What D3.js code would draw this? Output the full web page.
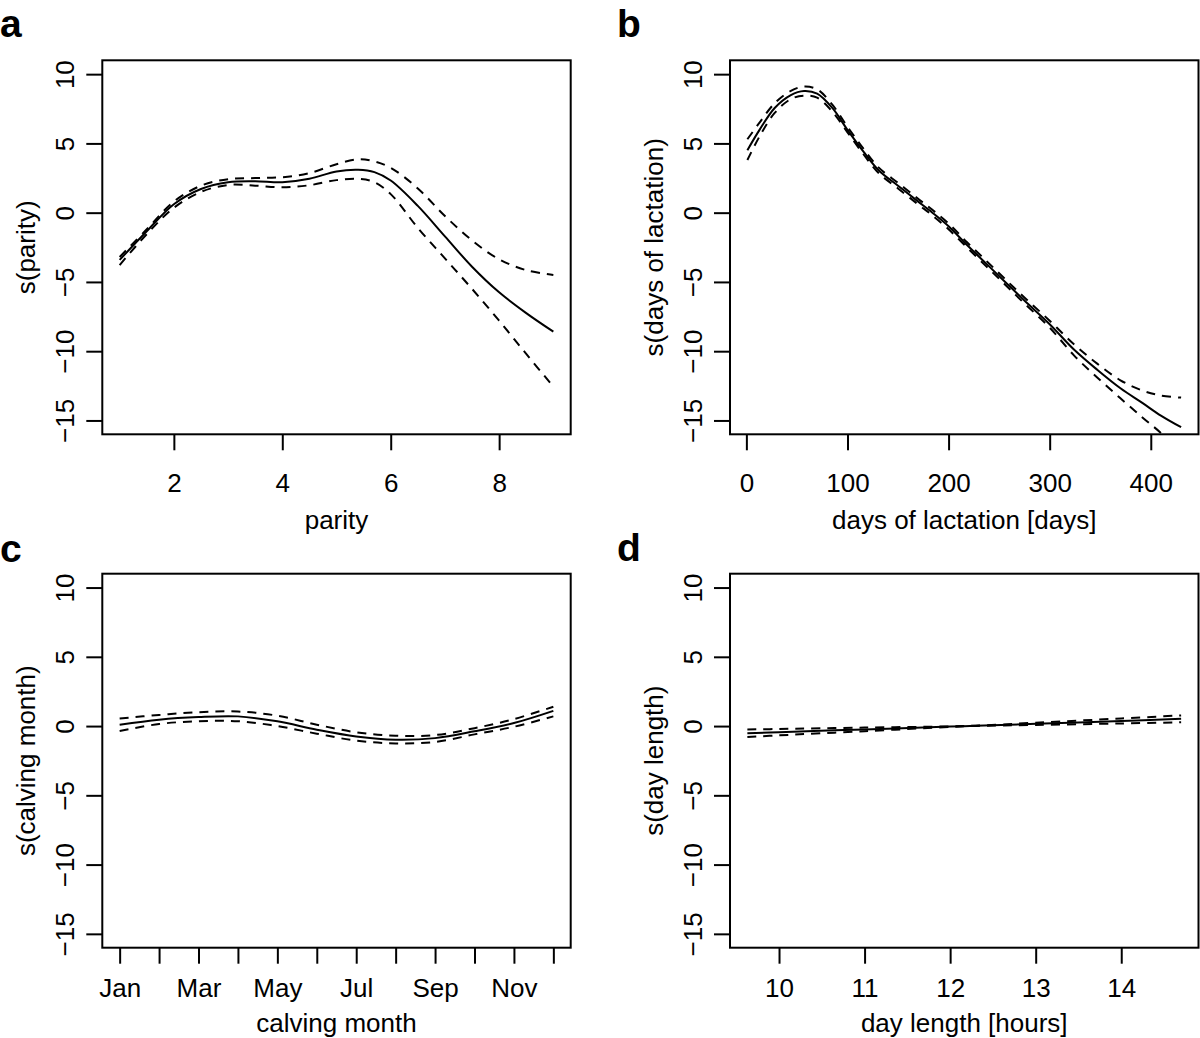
<!DOCTYPE html>
<html><head><meta charset="utf-8">
<script src="https://cdn.jsdelivr.net/npm/d3@7"></script>
<style>
body{margin:0;background:#fff}
svg{display:block}
text{font-family:"Liberation Sans",Arial,Helvetica,sans-serif;fill:#000}
</style>
</head><body>
<svg id="chart" width="1200" height="1038"></svg>
<script>
// ---- data ----
const yTicks = [-15, -10, -5, 0, 5, 10];

// a: parity
const parityX     = [1, 1.5, 2, 2.5, 3, 3.5, 4, 4.5, 5, 5.4, 5.7, 6, 6.5, 7, 7.5, 8, 8.5, 9];
const parityFit   = [-3.41, -1.34, 0.61, 1.71, 2.20, 2.27, 2.20, 2.45, 2.98, 3.10, 2.93, 2.32, 0.49, -1.71, -3.9, -5.75, -7.25, -8.59];
const parityUpper = [-3.2, -1.2, 0.8, 1.95, 2.42, 2.5, 2.56, 2.85, 3.5, 3.85, 3.7, 3.24, 1.75, -0.24, -2.0, -3.37, -4.15, -4.5];
const parityLower = [-3.78, -1.55, 0.35, 1.5, 2.0, 1.95, 1.83, 1.98, 2.35, 2.44, 2.2, 1.34, -1.1, -3.3, -5.5, -7.8, -10.2, -12.56];
const parityTicks = [2, 4, 6, 8];

// b: days of lactation
const daysX     = [1, 13, 28, 44, 57, 70, 85, 100, 116, 131, 150, 169, 184, 200, 218, 237, 256, 275, 300, 324, 347, 370, 392, 410, 430];
const daysFit   = [4.51, 5.98, 7.56, 8.49, 8.78, 8.59, 7.56, 5.98, 4.39, 3.05, 1.95, 0.85, 0, -0.98, -2.32, -3.66, -5.0, -6.34, -8.05, -9.88, -11.34, -12.68, -13.75, -14.65, -15.49];
const daysUpper = [5.3, 6.5, 7.9, 8.8, 9.1, 8.9, 7.8, 6.2, 4.6, 3.25, 2.15, 1.05, 0.2, -0.78, -2.12, -3.45, -4.8, -6.12, -7.8, -9.5, -10.9, -12.1, -12.85, -13.2, -13.35];
const daysLower = [3.8, 5.5, 7.2, 8.2, 8.45, 8.3, 7.3, 5.8, 4.2, 2.85, 1.75, 0.65, -0.2, -1.2, -2.5, -3.85, -5.2, -6.55, -8.3, -10.3, -11.9, -13.4, -14.8, -15.9, -17.3];
const daysTicks = [0, 100, 200, 300, 400];

// c: calving month
const monthX      = [1, 2, 3, 4, 5, 6, 7, 8, 9, 10, 11, 12];
const monthLabels = ["Jan", "", "Mar", "", "May", "", "Jul", "", "Sep", "", "Nov", ""];
const monthFit    = [0.1, 0.46, 0.65, 0.7, 0.34, -0.26, -0.75, -0.99, -0.87, -0.38, 0.22, 1.1];
const monthUpper  = [0.55, 0.8, 1.0, 1.05, 0.75, 0.1, -0.45, -0.7, -0.65, -0.15, 0.5, 1.4];
const monthLower  = [-0.35, 0.15, 0.35, 0.35, 0.0, -0.55, -1.05, -1.25, -1.15, -0.6, -0.05, 0.7];

// d: day length
const dayLenX     = [9.63, 10, 11, 12, 12.3, 13, 14, 14.7];
const dayLenFit   = [-0.52, -0.44, -0.24, -0.04, 0.02, 0.16, 0.37, 0.52];
const dayLenUpper = [-0.25, -0.21, -0.11, -0.02, 0.03, 0.24, 0.55, 0.77];
const dayLenLower = [-0.79, -0.67, -0.37, -0.06, 0.01, 0.08, 0.19, 0.27];
const dayLenTicks = [10, 11, 12, 13, 14];

// ---- drawing ----
const svg = d3.select("#chart");
const FS = 26;

function panel(o) {
  const x = d3.scaleLinear().domain(o.xDomain).range([o.left, o.right]);
  const y = d3.scaleLinear().domain([-16, 11]).range([o.bottom, o.top]);
  const g = svg.append("g");
  const cid = "clip" + o.letter;
  svg.append("clipPath").attr("id", cid).append("rect")
    .attr("x", o.left).attr("y", o.top).attr("width", o.right - o.left).attr("height", o.bottom - o.top);

  // x axis
  const xa = d3.axisBottom(x).tickValues(o.xTicks).tickSize(16).tickFormat(o.xFmt);
  const gx = g.append("g").attr("transform", `translate(0,${o.bottom})`).call(xa);
  gx.select(".domain").remove();
  gx.selectAll("line").attr("stroke", "#000").attr("stroke-width", 2);
  gx.selectAll("text").attr("y", o.tickOff).attr("dy", null)
    .style("font-size", FS + "px").attr("fill", "#000");

  // y axis
  const ya = d3.axisLeft(y).tickValues(yTicks).tickSize(16).tickFormat(d3.format("d"));
  const gy = g.append("g").attr("transform", `translate(${o.left},0)`).call(ya);
  gy.select(".domain").remove();
  gy.selectAll("line").attr("stroke", "#000").attr("stroke-width", 2);
  gy.selectAll("text").attr("x", null).attr("dy", null).attr("y", null)
    .attr("transform", "translate(-28,0) rotate(-90)")
    .attr("text-anchor", "middle")
    .style("font-size", FS + "px").attr("fill", "#000");

  // curves
  const line = d3.line().x(d => x(d[0])).y(d => y(d[1])).curve(d3.curveCatmullRom.alpha(0.5));
  const cg = g.append("g").attr("clip-path", `url(#${cid})`);
  const mk = arr => o.xs.map((v, i) => [v, arr[i]]);
  cg.append("path").attr("d", line(mk(o.upper))).attr("fill", "none")
    .attr("stroke", "#000").attr("stroke-width", 2).attr("stroke-dasharray", "9,7");
  cg.append("path").attr("d", line(mk(o.lower))).attr("fill", "none")
    .attr("stroke", "#000").attr("stroke-width", 2).attr("stroke-dasharray", "9,7");
  cg.append("path").attr("d", line(mk(o.fit))).attr("fill", "none")
    .attr("stroke", "#000").attr("stroke-width", 2);

  // box
  g.append("rect").attr("x", o.left).attr("y", o.top)
    .attr("width", o.right - o.left).attr("height", o.bottom - o.top)
    .attr("fill", "none").attr("stroke", "#000").attr("stroke-width", 2);

  // titles
  g.append("text").attr("x", (o.left + o.right) / 2).attr("y", o.bottom + o.titleOff)
    .attr("text-anchor", "middle").style("font-size", FS + "px").text(o.xTitle);
  g.append("text").attr("transform", `translate(${o.left - 67},${(o.top + o.bottom) / 2}) rotate(-90)`)
    .attr("text-anchor", "middle").style("font-size", FS + "px").text(o.yTitle);
  g.append("text").attr("x", o.lx).attr("y", o.ly)
    .style("font-size", "39px").style("font-weight", "bold").text(o.letter);
}

const colA = {left: 102.3, right: 570.7};
const colB = {left: 730, right: 1198.5};
const rowT = {top: 60.3, bottom: 434.3, tickOff: 58, titleOff: 95};
const rowB = {top: 573.7, bottom: 947.7, tickOff: 49, titleOff: 84};

panel(Object.assign({}, colA, rowT, {
  letter: "a", lx: 0, ly: 36.5,
  xDomain: [0.68, 9.32], xTicks: parityTicks, xFmt: d3.format("d"),
  xs: parityX, fit: parityFit, upper: parityUpper, lower: parityLower,
  xTitle: "parity", yTitle: "s(parity)"
}));
panel(Object.assign({}, colB, rowT, {
  letter: "b", lx: 617, ly: 36.5,
  xDomain: [-16.2, 447.2], xTicks: daysTicks, xFmt: d3.format("d"),
  xs: daysX, fit: daysFit, upper: daysUpper, lower: daysLower,
  xTitle: "days of lactation [days]", yTitle: "s(days of lactation)"
}));
panel(Object.assign({}, colA, rowB, {
  letter: "c", lx: 0, ly: 562,
  xDomain: [0.56, 12.44], xTicks: monthX, xFmt: (d, i) => monthLabels[i],
  xs: monthX, fit: monthFit, upper: monthUpper, lower: monthLower,
  xTitle: "calving month", yTitle: "s(calving month)"
}));
panel(Object.assign({}, colB, rowB, {
  letter: "d", lx: 617, ly: 561,
  xDomain: [9.427, 14.903], xTicks: dayLenTicks, xFmt: d3.format("d"),
  xs: dayLenX, fit: dayLenFit, upper: dayLenUpper, lower: dayLenLower,
  xTitle: "day length [hours]", yTitle: "s(day length)"
}));
</script>
</body></html>
